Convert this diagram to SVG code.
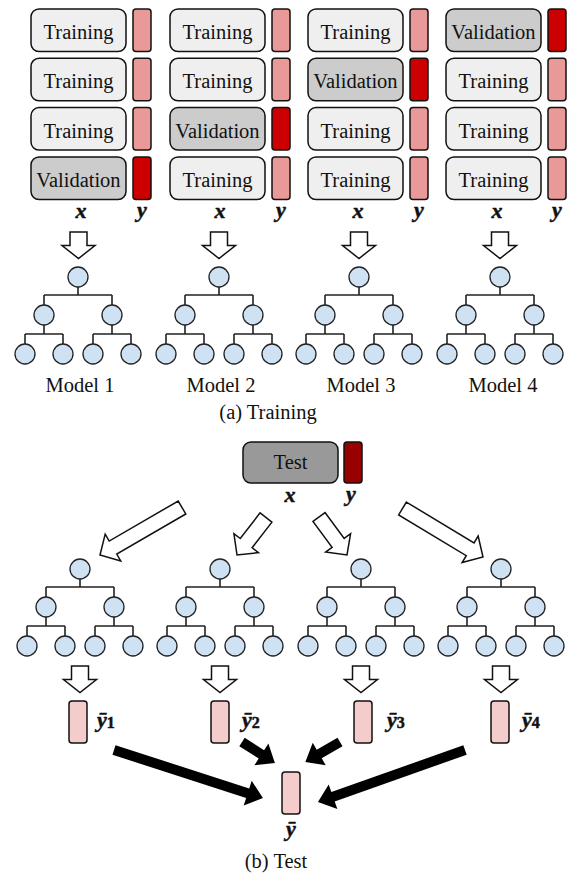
<svg xmlns="http://www.w3.org/2000/svg" xmlns:xlink="http://www.w3.org/1999/xlink" width="572" height="876" viewBox="0 0 572 876">
<style>
.tr{fill:#efefef;stroke:#111;stroke-width:1.5}
.va{fill:#cccccc;stroke:#111;stroke-width:1.5}
.yb{fill:#ea9999;stroke:#111;stroke-width:1.5}
.yv{fill:#cc0000;stroke:#111;stroke-width:1.5}
.yp{fill:#f4cccc;stroke:#111;stroke-width:1.5}
.lbl{font-family:"Liberation Serif","Times New Roman",serif;font-size:20.5px;fill:#111;text-anchor:middle}
.m{font-family:"Liberation Serif","DejaVu Serif","Times New Roman",serif;font-size:22px;font-weight:bold;font-style:italic;fill:#111;stroke:#111;stroke-width:0.5}
.mc{text-anchor:middle}
.sub{font-style:normal;font-size:16px}
.nd{fill:#cfe2f3;stroke:#222;stroke-width:1.3}
.ln{stroke:#222;stroke-width:1.6;fill:none}
.ha{fill:#fff;stroke:#111;stroke-width:1.5;stroke-linejoin:miter}
.ba{fill:#000;stroke:none}
</style>
<defs>
<g id="tree">
<path class="ln" d="M0,10V18M-34,18H34M-34,18V28M34,18V28M-34,48V57M34,48V57M-53,57H-15M15,57H53M-53,57V67M-15,57V67M15,57V67M53,57V67"/>
<circle class="nd" cx="0" cy="0" r="10"/>
<circle class="nd" cx="-34" cy="38" r="10"/>
<circle class="nd" cx="34" cy="38" r="10"/>
<circle class="nd" cx="-53" cy="77" r="10"/>
<circle class="nd" cx="-15" cy="77" r="10"/>
<circle class="nd" cx="15" cy="77" r="10"/>
<circle class="nd" cx="53" cy="77" r="10"/>
</g>
<polygon id="down" class="ha" points="-8.5,0 8.5,0 8.5,13.5 16.5,13.5 0,26.5 -16.5,13.5 -8.5,13.5"/>
</defs>

<!-- Training folds -->
<g id="fold1">
<rect class="tr" x="31" y="9" width="95" height="42.5" rx="8"/><rect class="yb" x="133" y="9" width="18" height="42.5" rx="3"/>
<rect class="tr" x="31" y="58.3" width="95" height="42.5" rx="8"/><rect class="yb" x="133" y="58.3" width="18" height="42.5" rx="3"/>
<rect class="tr" x="31" y="107.6" width="95" height="42.5" rx="8"/><rect class="yb" x="133" y="107.6" width="18" height="42.5" rx="3"/>
<rect class="va" x="31" y="157" width="95" height="42.5" rx="8"/><rect class="yv" x="133" y="157" width="18" height="42.5" rx="3"/>
<text class="lbl" x="78.5" y="39">Training</text>
<text class="lbl" x="78.5" y="88.3">Training</text>
<text class="lbl" x="78.5" y="137.6">Training</text>
<text class="lbl" x="78.5" y="187">Validation</text>
<text class="m mc" x="81" y="218">x</text>
<text class="m mc" x="142" y="217">y</text>
</g>
<g id="fold2">
<rect class="tr" x="170" y="9" width="95" height="42.5" rx="8"/><rect class="yb" x="272" y="9" width="18" height="42.5" rx="3"/>
<rect class="tr" x="170" y="58.3" width="95" height="42.5" rx="8"/><rect class="yb" x="272" y="58.3" width="18" height="42.5" rx="3"/>
<rect class="va" x="170" y="107.6" width="95" height="42.5" rx="8"/><rect class="yv" x="272" y="107.6" width="18" height="42.5" rx="3"/>
<rect class="tr" x="170" y="157" width="95" height="42.5" rx="8"/><rect class="yb" x="272" y="157" width="18" height="42.5" rx="3"/>
<text class="lbl" x="217.5" y="39">Training</text>
<text class="lbl" x="217.5" y="88.3">Training</text>
<text class="lbl" x="217.5" y="137.6">Validation</text>
<text class="lbl" x="217.5" y="187">Training</text>
<text class="m mc" x="220" y="218">x</text>
<text class="m mc" x="281" y="217">y</text>
</g>
<g id="fold3">
<rect class="tr" x="308" y="9" width="95" height="42.5" rx="8"/><rect class="yb" x="410" y="9" width="18" height="42.5" rx="3"/>
<rect class="va" x="308" y="58.3" width="95" height="42.5" rx="8"/><rect class="yv" x="410" y="58.3" width="18" height="42.5" rx="3"/>
<rect class="tr" x="308" y="107.6" width="95" height="42.5" rx="8"/><rect class="yb" x="410" y="107.6" width="18" height="42.5" rx="3"/>
<rect class="tr" x="308" y="157" width="95" height="42.5" rx="8"/><rect class="yb" x="410" y="157" width="18" height="42.5" rx="3"/>
<text class="lbl" x="355.5" y="39">Training</text>
<text class="lbl" x="355.5" y="88.3">Validation</text>
<text class="lbl" x="355.5" y="137.6">Training</text>
<text class="lbl" x="355.5" y="187">Training</text>
<text class="m mc" x="358" y="218">x</text>
<text class="m mc" x="419" y="217">y</text>
</g>
<g id="fold4">
<rect class="va" x="446" y="9" width="95" height="42.5" rx="8"/><rect class="yv" x="548" y="9" width="18" height="42.5" rx="3"/>
<rect class="tr" x="446" y="58.3" width="95" height="42.5" rx="8"/><rect class="yb" x="548" y="58.3" width="18" height="42.5" rx="3"/>
<rect class="tr" x="446" y="107.6" width="95" height="42.5" rx="8"/><rect class="yb" x="548" y="107.6" width="18" height="42.5" rx="3"/>
<rect class="tr" x="446" y="157" width="95" height="42.5" rx="8"/><rect class="yb" x="548" y="157" width="18" height="42.5" rx="3"/>
<text class="lbl" x="493.5" y="39">Validation</text>
<text class="lbl" x="493.5" y="88.3">Training</text>
<text class="lbl" x="493.5" y="137.6">Training</text>
<text class="lbl" x="493.5" y="187">Training</text>
<text class="m mc" x="497" y="218">x</text>
<text class="m mc" x="557" y="217">y</text>
</g>

<!-- Trained models -->
<g id="model1"><use xlink:href="#tree" x="78" y="277"/><text class="lbl" x="80" y="392">Model 1</text></g>
<g id="model2"><use xlink:href="#tree" x="219" y="277"/><text class="lbl" x="221" y="392">Model 2</text></g>
<g id="model3"><use xlink:href="#tree" x="359" y="277"/><text class="lbl" x="361" y="392">Model 3</text></g>
<g id="model4"><use xlink:href="#tree" x="500" y="277"/><text class="lbl" x="503" y="392">Model 4</text></g>

<text id="capA" class="lbl" x="268" y="419">(a) Training</text>

<!-- Test data -->
<g id="test">
<rect x="243" y="442" width="95" height="41" rx="8" fill="#999999" stroke="#111" stroke-width="1.5"/>
<rect x="344" y="442" width="18" height="41" rx="3" fill="#990000" stroke="#111" stroke-width="1.5"/>
<text class="lbl" x="290.5" y="469">Test</text>
<text class="m mc" x="290" y="502">x</text>
<text class="m mc" x="351" y="501">y</text>
</g>

<!-- Test models -->
<g id="tmodel1"><use xlink:href="#tree" x="80" y="569"/></g>
<g id="tmodel2"><use xlink:href="#tree" x="220" y="569"/></g>
<g id="tmodel3"><use xlink:href="#tree" x="361" y="569"/></g>
<g id="tmodel4"><use xlink:href="#tree" x="501" y="569"/></g>

<!-- Predictions -->
<g id="pred1"><rect class="yp" x="69" y="701" width="18" height="42" rx="3"/><text class="m" x="97" y="727">ȳ<tspan class="sub" dy="1">1</tspan></text></g>
<g id="pred2"><rect class="yp" x="211" y="701" width="18" height="42" rx="3"/><text class="m" x="242" y="727">ȳ<tspan class="sub" dy="1">2</tspan></text></g>
<g id="pred3"><rect class="yp" x="354" y="701" width="18" height="42" rx="3"/><text class="m" x="387" y="727">ȳ<tspan class="sub" dy="1">3</tspan></text></g>
<g id="pred4"><rect class="yp" x="491" y="701" width="18" height="42" rx="3"/><text class="m" x="522" y="727">ȳ<tspan class="sub" dy="1">4</tspan></text></g>
<g id="final"><rect class="yp" x="282" y="772" width="18" height="42" rx="3"/><text class="m mc" x="291" y="836">ȳ</text></g>

<text id="capB" class="lbl" x="276" y="868">(b) Test</text>

<!-- Connectors -->
<g id="connectors">
<use xlink:href="#down" x="78.5" y="232"/>
<use xlink:href="#down" x="219" y="232"/>
<use xlink:href="#down" x="359" y="232"/>
<use xlink:href="#down" x="500" y="232"/>
<polygon class="ha" transform="translate(182,507.5) rotate(149.9)" points="0,-7.5 79.8,-7.5 79.8,-15.5 94.8,0 79.8,15.5 79.8,7.5 0,7.5"/>
<polygon class="ha" transform="translate(266,517.5) rotate(127.7)" points="0,-7.5 32.4,-7.5 32.4,-15.5 47.4,0 32.4,15.5 32.4,7.5 0,7.5"/>
<polygon class="ha" transform="translate(319,517) rotate(53.6)" points="0,-7.5 32.2,-7.5 32.2,-15.5 47.2,0 32.2,15.5 32.2,7.5 0,7.5"/>
<polygon class="ha" transform="translate(402.5,508.5) rotate(31.1)" points="0,-7.5 79,-7.5 79,-15.5 94,0 79,15.5 79,7.5 0,7.5"/>
<use xlink:href="#down" x="80" y="666"/>
<use xlink:href="#down" x="220" y="666"/>
<use xlink:href="#down" x="361" y="666"/>
<use xlink:href="#down" x="501" y="666"/>
<polygon class="ba" transform="translate(114,750) rotate(17.9)" points="0,-5 140.5,-5 140.5,-13 156.5,0 140.5,13 140.5,5 0,5"/>
<polygon class="ba" transform="translate(242,742) rotate(32.5)" points="0,-5 23,-5 23,-13 39,0 23,13 23,5 0,5"/>
<polygon class="ba" transform="translate(340,742) rotate(150)" points="0,-5 24,-5 24,-13 40,0 24,13 24,5 0,5"/>
<polygon class="ba" transform="translate(465,750) rotate(160.5)" points="0,-5 140,-5 140,-13 156,0 140,13 140,5 0,5"/>
</g>
</svg>
